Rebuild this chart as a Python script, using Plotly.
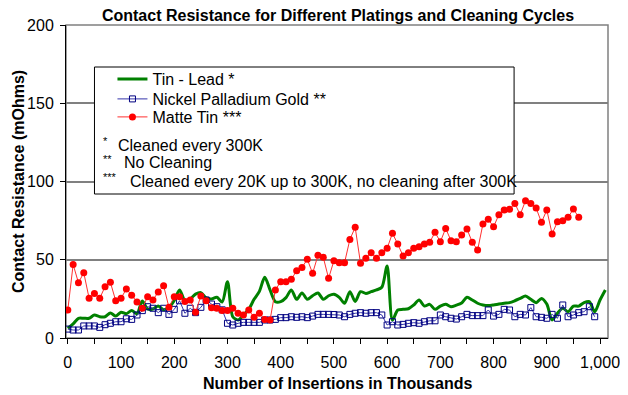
import plotly.graph_objects as go

insertions = [0, 10, 20, 30, 40, 50, 60, 70, 80, 90, 100, 110, 120, 130, 140, 150, 160, 170, 180, 190,
              200, 210, 220, 230, 240, 250, 260, 270, 280, 290, 300, 310, 320, 330, 340, 350, 360, 370, 380, 390,
              400, 410, 420, 430, 440, 450, 460, 470, 480, 490, 500, 510, 520, 530, 540, 550, 560, 570, 580, 590,
              600, 610, 620, 630, 640, 650, 660, 670, 680, 690, 700, 710, 720, 730, 740, 750, 760, 770, 780, 790,
              800, 810, 820, 830, 840, 850, 860, 870, 880, 890, 900, 910, 920, 930, 940, 950, 960, 970, 980, 990,
              1000, 1010]

tin_lead = [6.2, 9, 12.6, 12.6, 12.6, 14.7, 13.6, 13.6, 16, 14, 16.5, 15.5, 17.5, 15.5, 23.6, 18.5, 18.5, 20.5, 18, 19.5,
            24, 30.7, 24, 25, 28, 29, 25.6, 25, 26, 23, 36, 13.6, 11.5, 14.7, 18.3, 24.7, 29.8, 38.8, 30.7, 23.2,
            23.2, 25.8, 30.7, 24.7, 28.8, 24.7, 27, 28.8, 24.7, 27, 28, 26, 22.2, 29.6, 23.4, 29.6, 28.5, 29.6, 30.7, 32.4,
            46, 11.5, 17.9, 18.3, 18.7, 21.1, 24.3, 20.4, 21.5, 18.3, 20.4, 21.5, 20, 21, 22.4, 26, 24.3, 22.2, 21.1, 20.7,
            21.1, 21.7, 22.2, 22.6, 23.8, 25.3, 26.8, 24.7, 22.6, 25.3, 21.7, 11.5, 15.8, 19, 16.8, 20.4, 20.4, 22.6, 23.2, 16.8,
            24.3, 30.7]

nickel_pd_gold = [5.7, 5.1, 5.1, 7.7, 7.7, 7.7, 6.8, 8.5, 9.4, 10.4, 10.4, 12.3, 11.9, 14.7, 17.5, 20, 19, 16.2, 19, 15.1,
                  18.3, 23.8, 15.8, 19, 16.2, 19.6, 24.3, 21.7, 20, 18, 9.4, 8.3, 9.4, 10, 10, 10, 10, 11.5, 11.5, 11.9,
                  13, 13, 13.6, 13.2, 13.6, 13, 14, 15.1, 15.1, 15.1, 15, 14.7, 13.6, 15.1, 15.8, 16.2, 15.8, 16.2, 16.2, 14.7,
                  8.3, 10.4, 8.3, 8.7, 9.4, 9.8, 9.4, 10.4, 11, 11, 14.7, 13.6, 12.6, 12.1, 13.6, 15.1, 14.3, 14.3, 14.3, 17.9,
                  14, 15.1, 18.3, 17.9, 13.6, 15.1, 14.7, 19.4, 13.6, 13.2, 12.6, 15.1, 12.6, 21.1, 13.6, 14.7, 16.2, 16.8, 20, 13.6]

matte_tin = [17.9, 47, 35.3, 41.7, 25.4, 28.5, 25.4, 32.8, 35.6, 23.8, 25.4, 31.3, 27.3, 23, 19, 26.4, 24.3, 29.4, 33.4, 19.6,
             26.4, 26.4, 23.4, 24.3, 16.5, 26.8, 23.8, 19.4, 19, 17.5, 17.5, 19, 15.8, 14.7, 17.9, 13.2, 15.8, 11.9, 11.5, 30.7,
             36, 36, 37.5, 43, 45, 50.3, 41.3, 52.8, 51.6, 38.1, 49.4, 48.1, 48.1, 63, 70.7, 47.7, 50.9, 54.5, 50.9, 54.5,
             57.3, 66.9, 60, 52.4, 54.5, 57.3, 58.3, 60, 61.2, 67.5, 61.5, 70, 62.2, 61.5, 65.8, 69.6, 61.2, 56.2, 72.8, 75.8,
             71.1, 78.8, 81.8, 82.2, 86, 78.8, 87.7, 86, 83, 73.9, 81.8, 66.5, 74.3, 75, 77.1, 82.4, 77.1]

x_ticks = [0, 50, 100, 150, 200, 250, 300, 350, 400, 450, 500, 550, 600, 650, 700, 750, 800, 850, 900, 950, 1000]
x_tick_text = ["0", "", "100", "", "200", "", "300", "", "400", "", "500", "", "600", "", "700", "", "800", "", "900", "", "1,000"]
y_ticks = [0, 50, 100, 150, 200]

series_names = ["Tin - Lead *", "Nickel Palladium Gold **", "Matte Tin ***"]
notes = [("*", "Cleaned every 300K"), ("**", "No Cleaning"),
         ("***", "Cleaned every 20K up to 300K, no cleaning after 300K")]

FONT = "Liberation Sans, Arial, sans-serif"

# The page body has an 8px margin, so the figure is 8px smaller than the window.
FIG_W, FIG_H = 620, 387
OFF = 8

# plot area in page pixels
PL, PR, PT, PB = 65.5, 608, 25, 338

def px_x(px):
    return (px - PL) / float(PR - PL)

def px_y(py):
    return (PB - py) / float(PB - PT)

fig = go.Figure()
fig.add_trace(go.Scatter(x=insertions[:len(tin_lead)], y=tin_lead, name=series_names[0], mode="lines",
                         legend="legend",
                         line=dict(color="#008000", width=3, shape="spline", smoothing=0.8)))
fig.add_trace(go.Scatter(x=insertions[:len(nickel_pd_gold)], y=nickel_pd_gold, name=series_names[1],
                         mode="lines+markers", legend="legend2",
                         line=dict(color="#3333aa", width=1),
                         marker=dict(symbol="square-open", size=6, color="#000080", line=dict(width=1, color="#000080"))))
fig.add_trace(go.Scatter(x=insertions[:len(matte_tin)], y=matte_tin, name=series_names[2],
                         mode="lines+markers", legend="legend3",
                         line=dict(color="#ff3030", width=1),
                         marker=dict(symbol="circle", size=7, color="#ff0000")))

shapes = [
    dict(type="rect", xref="paper", yref="paper", x0=0, y0=0, x1=1, y1=1,
         line=dict(color="#808080", width=1.5), layer="below"),
    dict(type="rect", xref="paper", yref="paper", x0=px_x(94), y0=px_y(194), x1=px_x(514), y1=px_y(67),
         line=dict(color="#000000", width=1), fillcolor="white", layer="above"),
    # faint outer chart border on the right
    dict(type="line", xref="paper", yref="paper", x0=px_x(622), x1=px_x(622), y0=px_y(392), y1=px_y(8),
         line=dict(color="#e0e0e0", width=1)),
]

annotations = []
note_rows = [145, 163, 181]
text_starts = [116, 122, 128]
for (stars, txt), row, tx in zip(notes, note_rows, text_starts):
    annotations.append(dict(xref="paper", yref="paper", x=px_x(101), y=px_y(row - 4), text=stars,
                            showarrow=False, xanchor="left", yanchor="middle",
                            font=dict(family=FONT, size=11, color="#000000")))
    annotations.append(dict(xref="paper", yref="paper", x=px_x(tx), y=px_y(row), text=txt,
                            showarrow=False, xanchor="left", yanchor="middle",
                            font=dict(family=FONT, size=16, color="#000000")))
# axis titles as fixed-position text
annotations.append(dict(xref="paper", yref="paper", x=px_x((PL + PR) / 2), y=px_y(383),
                        text="<b>Number of Insertions in Thousands</b>", showarrow=False,
                        xanchor="center", yanchor="middle", font=dict(family=FONT, size=16, color="#000000")))
annotations.append(dict(xref="paper", yref="paper", x=px_x(18), y=px_y((PT + PB) / 2),
                        text="<b>Contact Resistance (mOhms)</b>", showarrow=False, textangle=-90,
                        xanchor="center", yanchor="middle", font=dict(family=FONT, size=16, color="#000000")))

legend_rows = [79, 99, 117]
legend_common = dict(x=px_x(112), xanchor="left", yanchor="middle",
                     bgcolor="rgba(0,0,0,0)", borderwidth=0, itemwidth=30,
                     font=dict(family=FONT, size=16, color="#000000"))

fig.update_layout(
    width=FIG_W, height=FIG_H,
    margin=dict(l=PL - OFF, r=FIG_W - (PR - OFF), t=PT - OFF, b=FIG_H - (PB - OFF)),
    paper_bgcolor="white", plot_bgcolor="white",
    font=dict(family=FONT, size=16, color="#000000"),
    title=dict(text="<b>Contact Resistance for Different Platings and Cleaning Cycles</b>",
               x=(338 - OFF) / FIG_W, xanchor="center", y=1 - (15 - OFF) / FIG_H, yanchor="middle",
               font=dict(family=FONT, size=16, color="#000000")),
    showlegend=True,
    legend=dict(y=px_y(legend_rows[0]), **legend_common),
    legend2=dict(y=px_y(legend_rows[1]), **legend_common),
    legend3=dict(y=px_y(legend_rows[2]), **legend_common),
    shapes=shapes,
    annotations=annotations,
)

fig.update_xaxes(range=[-3.4, 1015], tickvals=x_ticks, ticktext=x_tick_text, automargin=False,
                 ticks="outside", ticklen=5, tickcolor="#000000", ticklabelstandoff=5,
                 showline=True, linecolor="#000000", linewidth=1,
                 showgrid=False, zeroline=False,
                 tickfont=dict(family=FONT, size=16))
fig.update_yaxes(range=[0, 200], tickvals=y_ticks, automargin=False,
                 ticks="outside", ticklen=5, tickcolor="#000000", ticklabelstandoff=3,
                 showline=True, linecolor="#000000", linewidth=1,
                 showgrid=True, gridcolor="#808080", gridwidth=1.5, zeroline=False,
                 tickfont=dict(family=FONT, size=16))

fig.write_html("out.html")
